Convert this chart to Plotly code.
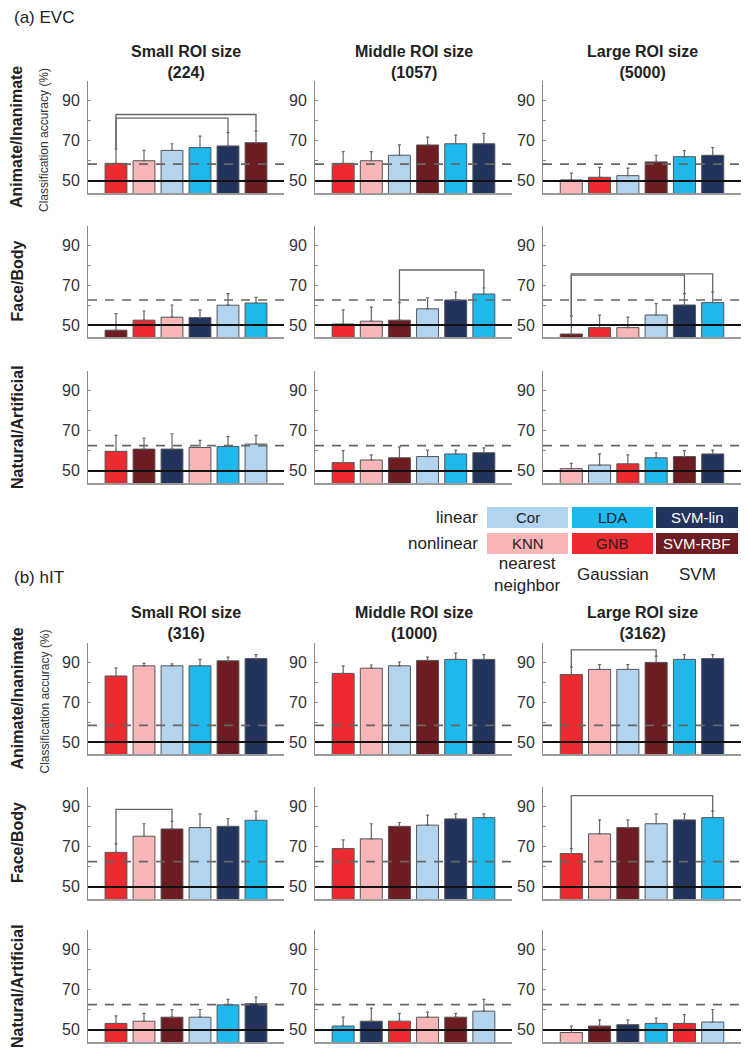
import plotly.graph_objects as go

# ---------------- colours of the six classifiers ----------------
COLORS = {"Cor": "#b3d4ef", "LDA": "#1eb8ec", "SVM-lin": "#22335d",
          "KNN": "#f8b6b9", "GNB": "#ed2a2f", "SVM-RBF": "#6d1c21"}

# ---------------- (a) EVC ----------------
evc_ai_small_cls = ["GNB", "KNN", "Cor", "LDA", "SVM-lin", "SVM-RBF"]
evc_ai_small_acc = [58.7, 60.0, 65.1, 66.5, 67.3, 68.9]
evc_ai_small_err = [7.1, 5.1, 3.3, 5.7, 6.6, 5.8]

evc_ai_mid_cls = ["GNB", "KNN", "Cor", "SVM-RBF", "LDA", "SVM-lin"]
evc_ai_mid_acc = [58.7, 60.0, 62.7, 67.8, 68.4, 68.4]
evc_ai_mid_err = [5.8, 4.5, 5.1, 3.9, 4.3, 5.1]

evc_ai_large_cls = ["KNN", "GNB", "Cor", "SVM-RBF", "LDA", "SVM-lin"]
evc_ai_large_acc = [50.5, 51.8, 52.6, 59.4, 62.0, 62.7]
evc_ai_large_err = [3.3, 4.9, 3.7, 3.3, 3.0, 3.8]

evc_fb_small_cls = ["SVM-RBF", "GNB", "KNN", "SVM-lin", "Cor", "LDA"]
evc_fb_small_acc = [47.4, 52.4, 53.9, 53.7, 59.9, 61.0]
evc_fb_small_err = [8.3, 4.6, 6.1, 3.9, 5.8, 2.8]

evc_fb_mid_cls = ["GNB", "KNN", "SVM-RBF", "Cor", "SVM-lin", "LDA"]
evc_fb_mid_acc = [50.5, 51.9, 52.4, 58.1, 62.5, 65.5]
evc_fb_mid_err = [7.1, 7.0, 8.8, 5.5, 3.9, 3.0]

evc_fb_large_cls = ["SVM-RBF", "GNB", "KNN", "Cor", "SVM-lin", "LDA"]
evc_fb_large_acc = [45.5, 48.7, 48.7, 55.0, 60.0, 61.2]
evc_fb_large_err = [8.9, 6.2, 5.2, 5.7, 5.7, 5.2]

evc_na_small_cls = ["GNB", "SVM-RBF", "SVM-lin", "KNN", "LDA", "Cor"]
evc_na_small_acc = [59.7, 60.8, 60.8, 61.6, 62.1, 63.3]
evc_na_small_err = [7.9, 5.5, 7.6, 3.5, 4.9, 4.3]

evc_na_mid_cls = ["GNB", "KNN", "SVM-RBF", "Cor", "LDA", "SVM-lin"]
evc_na_mid_acc = [54.1, 55.4, 56.5, 57.1, 58.4, 59.0]
evc_na_mid_err = [5.9, 2.5, 5.4, 3.2, 1.9, 2.4]

evc_na_large_cls = ["KNN", "Cor", "GNB", "LDA", "SVM-RBF", "SVM-lin"]
evc_na_large_acc = [51.1, 52.9, 53.5, 56.5, 57.1, 58.4]
evc_na_large_err = [2.6, 5.5, 4.4, 2.5, 2.9, 1.9]

# ---------------- (b) hIT ----------------
hit_ai_small_cls = ["GNB", "KNN", "Cor", "LDA", "SVM-RBF", "SVM-lin"]
hit_ai_small_acc = [83.0, 88.1, 88.1, 88.1, 90.6, 91.7]
hit_ai_small_err = [4.1, 1.2, 1.0, 3.2, 1.8, 2.0]

hit_ai_mid_cls = ["GNB", "KNN", "Cor", "SVM-RBF", "LDA", "SVM-lin"]
hit_ai_mid_acc = [84.3, 86.9, 88.1, 90.8, 91.3, 91.3]
hit_ai_mid_err = [3.8, 1.6, 1.9, 1.6, 3.1, 2.4]

hit_ai_large_cls = ["GNB", "KNN", "Cor", "SVM-RBF", "LDA", "SVM-lin"]
hit_ai_large_acc = [83.7, 86.3, 86.3, 89.8, 91.3, 91.7]
hit_ai_large_err = [3.7, 2.4, 2.4, 3.1, 2.4, 2.0]

hit_fb_small_cls = ["GNB", "KNN", "SVM-RBF", "Cor", "SVM-lin", "LDA"]
hit_fb_small_acc = [67.1, 75.1, 78.7, 79.4, 80.0, 83.0]
hit_fb_small_err = [4.2, 6.2, 3.8, 6.8, 3.8, 4.5]

hit_fb_mid_cls = ["GNB", "KNN", "SVM-RBF", "Cor", "SVM-lin", "LDA"]
hit_fb_mid_acc = [69.0, 73.8, 80.0, 80.6, 83.7, 84.3]
hit_fb_mid_err = [4.3, 7.5, 1.9, 5.0, 2.5, 1.9]

hit_fb_large_cls = ["GNB", "KNN", "SVM-RBF", "Cor", "SVM-lin", "LDA"]
hit_fb_large_acc = [66.5, 76.3, 79.4, 81.3, 83.2, 84.3]
hit_fb_large_err = [2.5, 6.9, 3.8, 4.9, 3.0, 3.2]

hit_na_small_cls = ["GNB", "KNN", "SVM-RBF", "Cor", "LDA", "SVM-lin"]
hit_na_small_acc = [53.2, 54.3, 56.3, 56.3, 62.4, 63.0]
hit_na_small_err = [3.7, 3.9, 3.8, 3.8, 2.7, 3.2]

hit_na_mid_cls = ["LDA", "SVM-lin", "GNB", "KNN", "SVM-RBF", "Cor"]
hit_na_mid_acc = [51.9, 54.3, 54.3, 56.3, 56.3, 59.3]
hit_na_mid_err = [4.4, 6.5, 3.9, 2.5, 1.9, 5.8]

hit_na_large_cls = ["KNN", "SVM-RBF", "SVM-lin", "LDA", "GNB", "Cor"]
hit_na_large_acc = [48.7, 51.9, 52.6, 53.2, 53.2, 53.9]
hit_na_large_err = [3.2, 3.1, 2.4, 2.6, 4.4, 6.2]

# chance-level thresholds (dashed lines) per category row
chance_levels = [58.3, 62.5, 62.5]

# significance brackets: (panel index, bar i, bar j, bracket height)
brackets = [(0, 1, 5, 81.1), (0, 1, 6, 82.9),
            (4, 3, 6, 77.5),
            (5, 1, 5, 74.9), (5, 1, 6, 75.6),
            (11, 1, 4, 96.1),
            (12, 1, 3, 88.4),
            (14, 1, 6, 95.2)]

col_titles_evc = ["Small ROI size<br>(224)", "Middle ROI size<br>(1057)", "Large ROI size<br>(5000)"]
col_titles_hit = ["Small ROI size<br>(316)", "Middle ROI size<br>(1000)", "Large ROI size<br>(3162)"]
row_names = ["Animate/Inanimate", "Face/Body", "Natural/Artificial"]

panels = [
    (evc_ai_small_cls, evc_ai_small_acc, evc_ai_small_err),
    (evc_ai_mid_cls, evc_ai_mid_acc, evc_ai_mid_err),
    (evc_ai_large_cls, evc_ai_large_acc, evc_ai_large_err),
    (evc_fb_small_cls, evc_fb_small_acc, evc_fb_small_err),
    (evc_fb_mid_cls, evc_fb_mid_acc, evc_fb_mid_err),
    (evc_fb_large_cls, evc_fb_large_acc, evc_fb_large_err),
    (evc_na_small_cls, evc_na_small_acc, evc_na_small_err),
    (evc_na_mid_cls, evc_na_mid_acc, evc_na_mid_err),
    (evc_na_large_cls, evc_na_large_acc, evc_na_large_err),
    (hit_ai_small_cls, hit_ai_small_acc, hit_ai_small_err),
    (hit_ai_mid_cls, hit_ai_mid_acc, hit_ai_mid_err),
    (hit_ai_large_cls, hit_ai_large_acc, hit_ai_large_err),
    (hit_fb_small_cls, hit_fb_small_acc, hit_fb_small_err),
    (hit_fb_mid_cls, hit_fb_mid_acc, hit_fb_mid_err),
    (hit_fb_large_cls, hit_fb_large_acc, hit_fb_large_err),
    (hit_na_small_cls, hit_na_small_acc, hit_na_small_err),
    (hit_na_mid_cls, hit_na_mid_acc, hit_na_mid_err),
    (hit_na_large_cls, hit_na_large_acc, hit_na_large_err),
]

# ---------------- layout geometry (pixels) ----------------
W, H = 748, 1050
rows_px = [(81, 193), (226, 337), (371, 483), (643, 754), (787, 899), (930, 1042)]
cols_px = [(88, 284), (315, 512), (543, 741)]

FONT = "Liberation Sans, Arial, Helvetica, sans-serif"
NARROW = "Liberation Sans Narrow, Arial Narrow, Liberation Sans, Arial, sans-serif"


def px(x):
    return x / W


def py(y):
    return 1 - y / H


fig = go.Figure()
layout = dict(width=W, height=H, margin=dict(l=0, r=0, t=0, b=0),
              paper_bgcolor="white", plot_bgcolor="white",
              showlegend=False, font=dict(family=FONT, color="#222"),
              bargap=0.2)
shapes = []
annotations = []

for k, (cls, acc, err) in enumerate(panels):
    r, c = divmod(k, 3)
    n = k + 1
    xa = "x" if n == 1 else f"x{n}"
    ya = "y" if n == 1 else f"y{n}"
    xs = list(range(1, len(cls) + 1))
    fig.add_trace(go.Bar(
        x=xs, y=acc, xaxis=xa, yaxis=ya, width=0.78,
        marker=dict(color=[COLORS[m] for m in cls], line=dict(color="#555", width=1)),
        error_y=dict(type="data", symmetric=False, array=err, arrayminus=[0] * len(err),
                     color="#666", thickness=1.2, width=1.5),
        hoverinfo="skip"))
    x0, x1 = cols_px[c]
    y0, y1 = rows_px[r]
    layout["xaxis" if n == 1 else f"xaxis{n}"] = dict(
        domain=[px(x0), px(x1)], anchor=ya, range=[0, 7], showgrid=False, zeroline=False,
        showticklabels=False, ticks="", showline=True, linecolor="#9a9a9a", linewidth=2,
        fixedrange=True)
    layout["yaxis" if n == 1 else f"yaxis{n}"] = dict(
        domain=[py(y1), py(y0)], anchor=xa, range=[44, 99.5], showgrid=False, zeroline=False,
        showline=True, linecolor="#8a8a8a", linewidth=1, ticks="inside", ticklen=3,
        tickcolor="#8a8a8a", tickvals=[50, 60, 70, 80, 90], ticktext=["50", "", "70", "", "90"],
        tickfont=dict(family=NARROW, size=16, color="#333"), ticklabelstandoff=4,
        fixedrange=True)
    # chance line (dashed) and 50 % line
    chance = chance_levels[r % 3]
    shapes.append(dict(type="line", xref=f"{xa} domain", yref=ya, x0=0, x1=1, y0=chance, y1=chance,
                       line=dict(color="#666", width=1.6, dash="9px,8px"), layer="above"))
    shapes.append(dict(type="line", xref=f"{xa} domain", yref=ya, x0=0, x1=1, y0=50, y1=50,
                       line=dict(color="#111", width=2), layer="above"))

# significance brackets
for (k, i, j, level) in brackets:
    cls, acc, err = panels[k]
    n = k + 1
    xa = "x" if n == 1 else f"x{n}"
    ya = "y" if n == 1 else f"y{n}"
    ti = acc[i - 1] + err[i - 1]
    tj = acc[j - 1] + err[j - 1]
    fig.add_trace(go.Scatter(x=[i, i, j, j], y=[ti, level, level, tj], xaxis=xa, yaxis=ya,
                             mode="lines", line=dict(color="#666", width=1.3), hoverinfo="skip"))

# section labels
annotations.append(dict(text="(a) EVC", x=px(12), y=py(17), xref="paper", yref="paper",
                        xanchor="left", yanchor="middle", showarrow=False,
                        font=dict(size=17, color="#222")))
annotations.append(dict(text="(b) hIT", x=px(12), y=py(577), xref="paper", yref="paper",
                        xanchor="left", yanchor="middle", showarrow=False,
                        font=dict(size=17, color="#222")))

# column titles
for block, titles, ytitle in [(0, col_titles_evc, 62), (1, col_titles_hit, 623)]:
    for c, t in enumerate(titles):
        cx = (cols_px[c][0] + cols_px[c][1]) / 2
        annotations.append(dict(text=f"<b>{t}</b>", x=px(cx), y=py(ytitle), xref="paper", yref="paper",
                                xanchor="center", yanchor="middle", showarrow=False,
                                font=dict(size=16, color="#222")))

# row labels
for r in range(6):
    cy = (rows_px[r][0] + rows_px[r][1]) / 2
    annotations.append(dict(text=f"<b>{row_names[r % 3]}</b>", x=px(17), y=py(cy), xref="paper",
                            yref="paper", xanchor="center", yanchor="middle", textangle=-90,
                            showarrow=False, font=dict(size=16, color="#222")))
    if r % 3 == 0:
        annotations.append(dict(text="Classification accuracy (%)", x=px(44), y=py(cy + 3),
                                xref="paper", yref="paper", xanchor="center", yanchor="middle",
                                textangle=-90, showarrow=False, font=dict(size=12, color="#333")))

# classifier key
key_rows = [("linear", ["Cor", "LDA", "SVM-lin"], (507, 528)),
            ("nonlinear", ["KNN", "GNB", "SVM-RBF"], (533, 554))]
key_cols = [(487, 568), (572, 653), (656, 738)]
dark = {"SVM-lin", "SVM-RBF"}
for label, names, (ky0, ky1) in key_rows:
    annotations.append(dict(text=label, x=px(480), y=py((ky0 + ky1) / 2), xref="paper", yref="paper",
                            xanchor="right", yanchor="middle", showarrow=False,
                            font=dict(size=17, color="#222")))
    for (kx0, kx1), name in zip(key_cols, names):
        shapes.append(dict(type="rect", xref="paper", yref="paper", x0=px(kx0), x1=px(kx1),
                           y0=py(ky1), y1=py(ky0), fillcolor=COLORS[name], line=dict(width=0)))
        annotations.append(dict(text=name, x=px((kx0 + kx1) / 2), y=py((ky0 + ky1) / 2),
                                xref="paper", yref="paper", xanchor="center", yanchor="middle",
                                showarrow=False,
                                font=dict(size=15, color="white" if name in dark else "#222")))
family_labels = ["nearest<br>neighbor", "Gaussian", "SVM"]
for (kx0, kx1), t in zip(key_cols, family_labels):
    annotations.append(dict(text=t, x=px((kx0 + kx1) / 2), y=py(574), xref="paper", yref="paper",
                            xanchor="center", yanchor="middle", showarrow=False,
                            font=dict(size=17, color="#222")))

layout["shapes"] = shapes
layout["annotations"] = annotations
fig.update_layout(**layout)
fig.write_html("out.html", config={"displayModeBar": False},
               post_script="document.body.style.margin='0';document.body.style.overflow='hidden';")
